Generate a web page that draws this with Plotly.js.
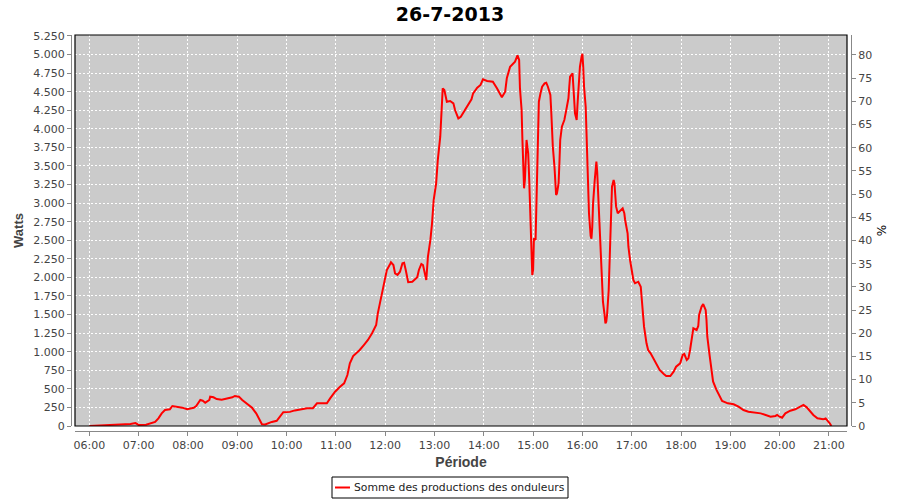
<!DOCTYPE html>
<html>
<head>
<meta charset="utf-8">
<script src="https://cdn.plot.ly/plotly-3.0.1.min.js"></script>
<style>html,body{margin:0;padding:0;background:#fff}#chart{width:900px;height:500px}</style>
</head>
<body>
<div id="chart"></div>
<script>
const day = '2013-07-26';
const times = ['06:00','06:10','06:20','06:33','06:50','06:56','07:00','07:09','07:14','07:20','07:24','07:28','07:32','07:38','07:41','07:47','07:53','07:59','08:04','08:07','08:10','08:15','08:18','08:21','08:26','08:27','08:31','08:35','08:41','08:49','08:54','08:57','09:02','09:06','09:12','09:18','09:23','09:27','09:30','09:34','09:38','09:42','09:48','09:52','09:56','10:04','10:10','10:25','10:32','10:37','10:49','10:53','10:59','11:05','11:10','11:14','11:17','11:21','11:26','11:29','11:34','11:39','11:44','11:48','11:49','11:51','11:54','11:57','12:00','12:02','12:06','12:07','12:10','12:12','12:15','12:18','12:21','12:23','12:25','12:28','12:33','12:39','12:41','12:44','12:46','12:49','12:50','12:52','12:55','12:57','12:59','13:02','13:04','13:07','13:08','13:09','13:10','13:12','13:13','13:15','13:19','13:23','13:25','13:29','13:32','13:36','13:40','13:45','13:47','13:52','13:56','13:59','14:04','14:11','14:16','14:20','14:22','14:26','14:28','14:32','14:36','14:38','14:41','14:43','14:44','14:46','14:47','14:48','14:49','14:50','14:52','14:53','14:54','14:55','14:56','14:58','14:59','15:00','15:01','15:03','15:04','15:05','15:06','15:07','15:09','15:11','15:14','15:16','15:18','15:21','15:22','15:23','15:24','15:26','15:27','15:28','15:29','15:31','15:32','15:33','15:35','15:38','15:40','15:43','15:44','15:45','15:48','15:49','15:50','15:51','15:53','15:54','15:55','15:56','15:57','15:59','16:00','16:01','16:02','16:04','16:05','16:06','16:07','16:08','16:10','16:11','16:12','16:13','16:15','16:16','16:17','16:18','16:19','16:21','16:22','16:23','16:24','16:25','16:27','16:28','16:29','16:30','16:32','16:33','16:34','16:35','16:36','16:38','16:39','16:40','16:41','16:43','16:45','16:47','16:49','16:51','16:52','16:55','16:56','16:58','17:00','17:02','17:04','17:08','17:11','17:12','17:13','17:15','17:18','17:20','17:23','17:26','17:30','17:34','17:39','17:42','17:47','17:51','17:54','17:59','18:02','18:04','18:07','18:09','18:11','18:14','18:15','18:19','18:21','18:22','18:25','18:27','18:30','18:31','18:32','18:35','18:37','18:39','18:43','18:47','18:50','18:57','19:04','19:10','19:16','19:22','19:31','19:37','19:43','19:49','19:55','19:57','20:00','20:03','20:07','20:13','20:19','20:25','20:29','20:33','20:38','20:41','20:46','20:50','20:53','20:56','20:58','21:01','21:03'];
const watts = [0,5,8,20,27,40,15,18,36,54,103,170,215,225,269,260,247,225,238,245,269,350,341,314,350,395,386,363,354,372,386,404,395,350,300,245,170,81,23,20,40,55,70,125,186,190,210,238,240,305,305,372,462,529,574,686,844,942,992,1023,1090,1158,1248,1328,1359,1517,1673,1875,2010,2100,2181,2203,2167,2055,2033,2077,2190,2198,2100,1935,1942,2001,2100,2181,2167,1975,1965,2279,2504,2728,3042,3267,3580,3894,4163,4411,4545,4523,4455,4365,4375,4343,4253,4141,4163,4240,4298,4397,4478,4554,4590,4667,4644,4634,4545,4455,4424,4500,4680,4836,4882,4904,4990,4926,4545,4253,3850,3401,3199,3311,3850,3760,3670,3401,2997,2548,2032,2100,2526,2504,2952,3490,4029,4365,4478,4567,4613,4621,4567,4455,4253,3984,3760,3490,3221,3109,3132,3267,3536,3850,4029,4118,4231,4411,4567,4702,4747,4613,4388,4209,4118,4321,4478,4657,4836,4971,5010,4836,4567,4298,3894,3490,3132,2863,2560,2520,2680,3000,3310,3500,3558,3420,3150,2750,2413,2123,1898,1673,1494,1382,1404,1494,1831,2190,2548,2840,3221,3311,3267,3109,2952,2863,2885,2916,2930,2863,2773,2594,2413,2234,2100,1965,1921,1942,1875,1740,1561,1337,1113,1023,978,911,821,754,700,673,673,731,798,844,956,969,888,911,1023,1202,1315,1292,1346,1494,1606,1642,1561,1427,1202,933,754,600,490,400,336,305,292,260,215,193,179,170,148,125,135,148,125,112,170,206,225,260,283,251,179,148,103,90,90,103,81,36,0];
const seriesName = 'Somme des productions des onduleurs';
const chartTitle = '26-7-2013';
const leftTitle = 'Watts';
const rightTitle = '%';
const xTitle = 'Période';
const wattsMax = 5263;
const percentMax = 84.31;

const x = times.map(t => day + ' ' + t);
const tickFont = {family: 'DejaVu Sans', size: 11, color: '#444444'};
const lineColor = '#ff0000';

// paper coordinates: plot frame spans px x 71..851, y 35..431
const px = v => (v - 71) / 780;
const py = v => (431 - v) / 396;

const data = [
  {
    type: 'scatter', mode: 'lines', x: x, y: watts, name: seriesName,
    line: {color: lineColor, width: 2}, showlegend: false
  },
  {
    // hidden companion on the % axis so that the right-hand scale is drawn
    type: 'scatter', mode: 'lines', x: x, y: watts.map(w => w * percentMax / wattsMax),
    yaxis: 'y2', line: {color: 'rgba(0,0,0,0)', width: 0}, showlegend: false, hoverinfo: 'skip'
  }
];

const layout = {
  width: 900, height: 500,
  margin: {l: 71, r: 49, t: 35, b: 69, pad: 0},
  paper_bgcolor: '#ffffff', plot_bgcolor: '#cbcbcb',
  separators: ',.',
  showlegend: false,
  title: {text: chartTitle, font: {family: 'DejaVu Sans', size: 19, color: '#000000', weight: 'bold'},
          x: 0.5, xanchor: 'center', xref: 'container', y: 0.972, yanchor: 'middle', yref: 'container'},
  xaxis: {
    type: 'date', domain: [4/780, 776/780], anchor: 'free', position: 0,
    range: [day + ' 05:42:30', day + ' 21:22:00'],
    tick0: day + ' 06:00', dtick: 3600000, tickformat: '%H:%M',
    showline: true, linecolor: '#888888', linewidth: 1,
    ticks: 'outside', ticklen: 4, tickcolor: '#888888',
    showgrid: true, gridcolor: '#ffffff', griddash: '2px,2px', gridwidth: 1,
    zeroline: false, tickfont: tickFont,
    title: {text: xTitle, font: {family: 'Liberation Sans', size: 14, color: '#444444', weight: 'bold'}, standoff: 5}
  },
  yaxis: {
    domain: [5/396, 1], anchor: 'free', position: 0,
    range: [0, wattsMax], dtick: 250, tickformat: ',d',
    showline: true, linecolor: '#888888', linewidth: 1,
    ticks: 'outside', ticklen: 4, tickcolor: '#888888',
    showgrid: true, gridcolor: '#ffffff', griddash: '2px,2px', gridwidth: 1,
    zeroline: false, tickfont: tickFont,
    title: {text: leftTitle, font: {family: 'Liberation Sans', size: 13, color: '#444444', weight: 'bold'}, standoff: 5}
  },
  yaxis2: {
    domain: [5/396, 1], overlaying: 'y', side: 'right', anchor: 'free', position: 1,
    range: [0, percentMax], dtick: 5,
    showline: true, linecolor: '#888888', linewidth: 1,
    ticks: 'outside', ticklen: 4, tickcolor: '#888888',
    showgrid: false, zeroline: false, tickfont: tickFont,
    title: {text: rightTitle, font: {family: 'DejaVu Sans', size: 12, color: '#000000'}, standoff: 6}
  },
  shapes: [
    {type: 'rect', xref: 'x domain', yref: 'y domain', x0: 0, x1: 1, y0: 0, y1: 1,
     line: {color: '#000000', width: 1.2}, fillcolor: 'rgba(0,0,0,0)', layer: 'above'},
    // legend frame and swatch
    {type: 'rect', xref: 'paper', yref: 'paper', x0: px(332), x1: px(568), y0: py(477), y1: py(498),
     line: {color: '#000000', width: 1}, fillcolor: '#ffffff'},
    {type: 'line', xref: 'paper', yref: 'paper', x0: px(335), x1: px(350), y0: py(487.5), y1: py(487.5),
     line: {color: lineColor, width: 2}}
  ],
  annotations: [
    {text: seriesName, xref: 'paper', yref: 'paper', x: px(352), y: py(487.5), xanchor: 'left', yanchor: 'middle',
     showarrow: false, font: {family: 'DejaVu Sans', size: 10.8, color: '#222222'}}
  ]
};

Plotly.newPlot('chart', data, layout, {displayModeBar: false, staticPlot: true});
</script>
</body>
</html>
